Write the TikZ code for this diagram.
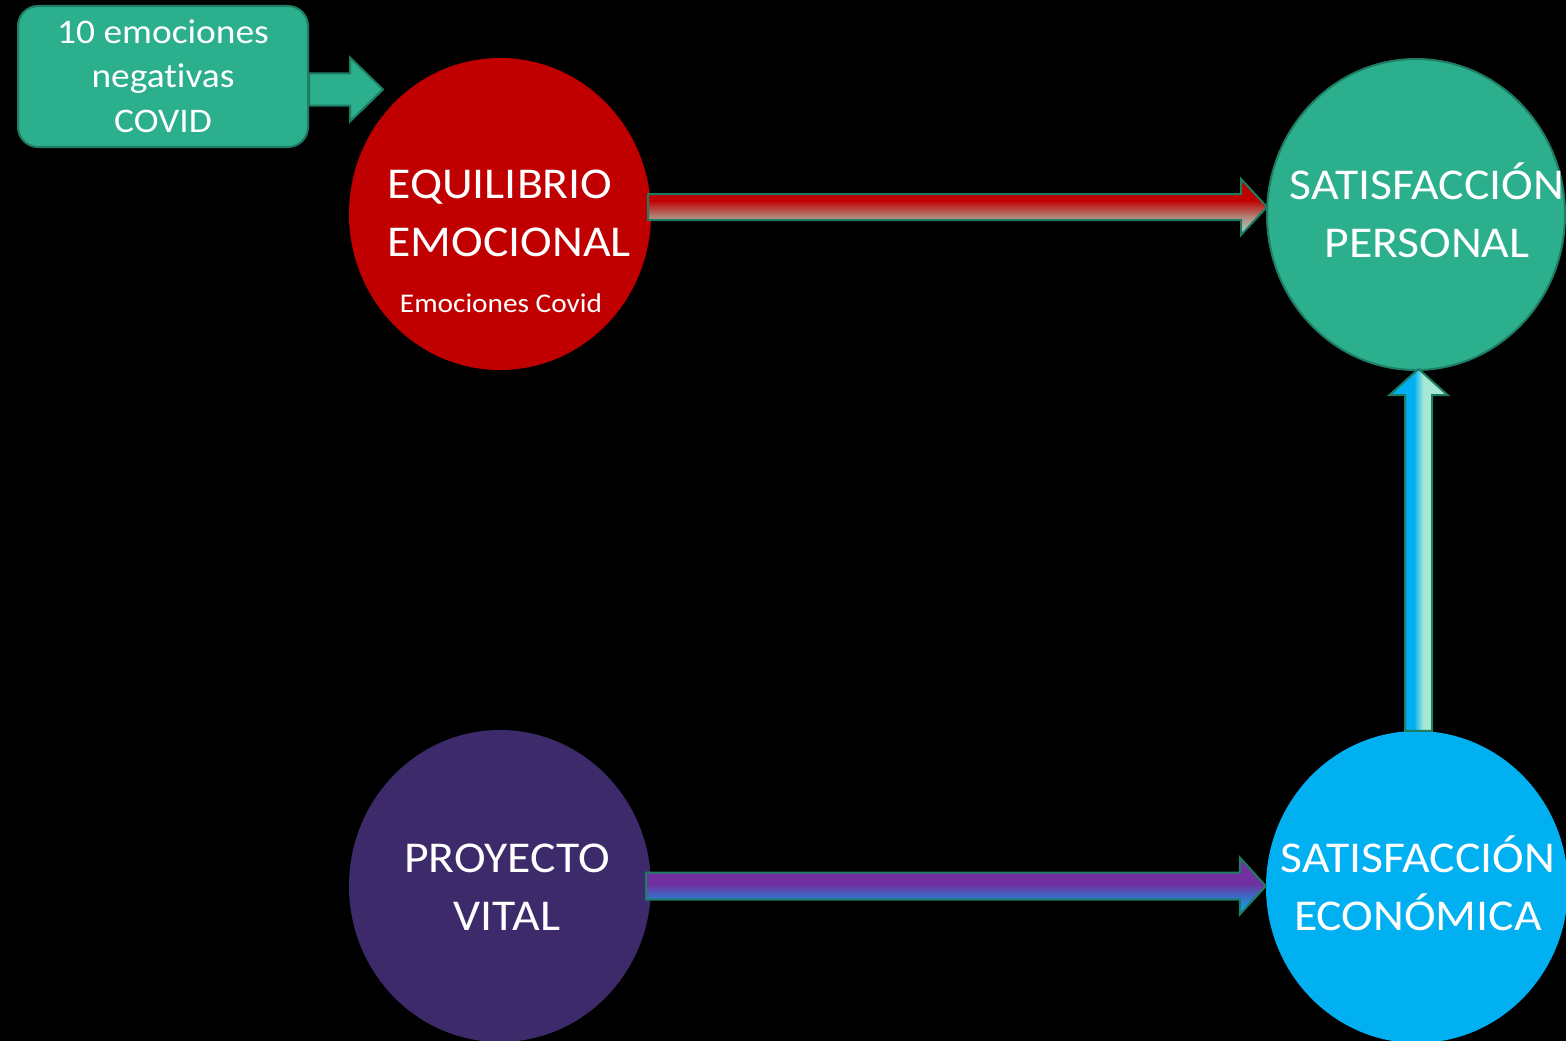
\documentclass[tikz,border=0pt]{standalone}
\usepackage{fontspec}
\setmainfont{Carlito}[FakeStretch=1.085, Ligatures=NoCommon]
\usetikzlibrary{calc,shapes.geometric}
\definecolor{redc}{HTML}{C00000}
\definecolor{greenc}{HTML}{2BAF8D}
\definecolor{greenedge}{HTML}{1E7C63}
\definecolor{purplec}{HTML}{3D2A6B}
\definecolor{cyanc}{HTML}{00B0F0}
\definecolor{mintc}{HTML}{A6E8D4}
\definecolor{violetc}{HTML}{7030A0}
\pgfdeclarehorizontalshading{upshade}{100bp}{color(0bp)=(cyanc); color(25bp)=(cyanc); color(46bp)=(cyanc); color(54bp)=(mintc); color(75bp)=(mintc); color(100bp)=(mintc)}
\pgfdeclareverticalshading{redshade}{100bp}{color(0bp)=(mintc); color(25bp)=(mintc); color(42bp)=(redc!45!mintc); color(56bp)=(redc); color(75bp)=(redc); color(100bp)=(redc)}
\pgfdeclareverticalshading{purpshade}{100bp}{color(0bp)=(cyanc); color(25bp)=(cyanc); color(35bp)=(cyanc!70!violetc); color(52bp)=(violetc); color(75bp)=(violetc); color(100bp)=(violetc)}
\tikzset{
  bubble/.style={ellipse, minimum width=302, minimum height=312, inner sep=0},
  big/.style={text=white, font=\fontsize{44}{57.5}\selectfont},
  small/.style={text=white, font=\fontsize{27}{30}\selectfont},
  boxtext/.style={text=white, font=\fontsize{34.5}{44.5}\selectfont},
  blockarrow/.style={draw=greenedge, line width=2, line join=miter},
}
\begin{document}
\begin{tikzpicture}[x=1pt,y=-1pt]
\fill[black] (0,0) rectangle (1566,1041);
\useasboundingbox (0,0) rectangle (1566,1041);

% circles
\node[bubble, fill=redc] (eq) at (500,214) {};
\node[bubble, minimum width=298, minimum height=311, fill=greenc, draw=greenedge, line width=2] (sp) at (1416,214.5) {};
\node[bubble, fill=purplec] (pv) at (500,886) {};
\node[bubble, fill=cyanc] (se) at (1417,887) {};

% box
\node[draw=greenedge, line width=2, fill=greenc, rounded corners=20,
      minimum width=290, minimum height=141, inner sep=0] (box) at (163,76.5) {};
\node[boxtext, align=center, anchor=base] (boxt) at (163,132) {10 emociones\\negat\kern0pt ivas\\COVID};

% texts
\node[big, align=left, anchor=base west] (eqt) at (384,256) {EQUILIBRIO\\EMOCIONAL};
\node[small, anchor=base] (eqs) at (501,312) {Emociones Covid};
\node[big, align=center, anchor=base] (spt) at (1427,257) {SATISFACCIÓN\\PERSONAL};
\node[big, align=center, anchor=base] (pvt) at (507,930) {PROYECTO\\VITAL};
\node[big, align=center, anchor=base] (set) at (1418,930) {SATISFACCIÓN\\ECONÓMICA};

% small arrow box -> eq
\coordinate (b1) at ($(box.east)+(0,13)$);
\coordinate (b2) at ($(b1)+(74,0)$);
\path[blockarrow, fill=greenc]
  ($(b1)+(0,-16)$) -- ($(b2)+(-33,-16)$) -- ($(b2)+(-33,-32)$) -- (b2)
  -- ($(b2)+(-33,32)$) -- ($(b2)+(-33,16)$) -- ($(b1)+(0,16)$) -- cycle;

% red arrow eq -> sp
\coordinate (r1) at ($(eq.east)+(-3,-7)$);
\coordinate (r2) at ($(sp.west)+(1,-7.5)$);
\path[blockarrow, shading=redshade]
  ($(r1)+(0,-13)$) -- ($(r2)+(-26,-13)$) -- ($(r2)+(-26,-28)$) -- (r2)
  -- ($(r2)+(-26,28)$) -- ($(r2)+(-26,13)$) -- ($(r1)+(0,13)$) -- cycle;

% purple arrow pv -> se
\coordinate (p1) at ($(pv.east)+(-5,0)$);
\coordinate (p2) at ($(se.west)+(0,-1)$);
\path[blockarrow, shading=purpshade]
  ($(p1)+(0,-13.5)$) -- ($(p2)+(-26,-13.5)$) -- ($(p2)+(-26,-28.5)$) -- (p2)
  -- ($(p2)+(-26,28.5)$) -- ($(p2)+(-26,13.5)$) -- ($(p1)+(0,13.5)$) -- cycle;

% vertical arrow se -> sp
\coordinate (v1) at ($(se.north)+(1.5,0)$);
\coordinate (v2) at ($(sp.south)+(2.5,-2)$);
\path[blockarrow, shading=upshade]
  ($(v1)+(-13.5,0)$) -- ($(v2)+(-13.5,26)$) -- ($(v2)+(-29,26)$) -- (v2)
  -- ($(v2)+(29,26)$) -- ($(v2)+(13.5,26)$) -- ($(v1)+(13.5,0)$) -- cycle;
\end{tikzpicture}
\end{document}
